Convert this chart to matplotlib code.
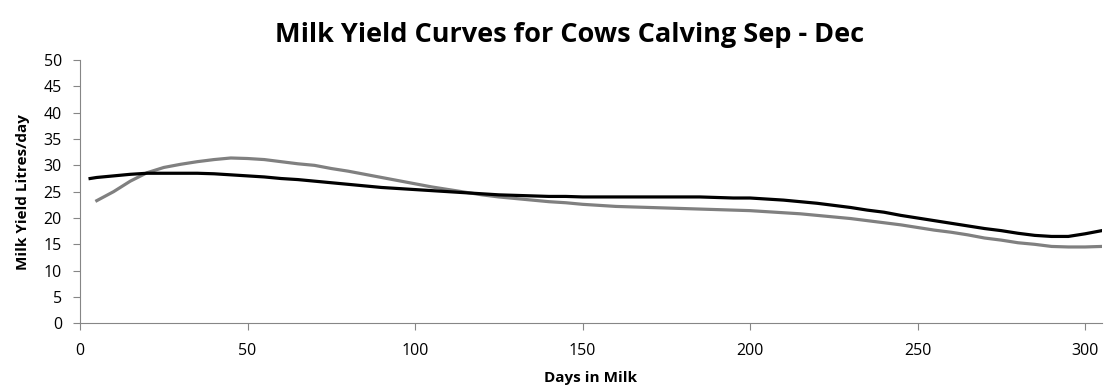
import matplotlib.pyplot as plt

# days in milk
days = [3, 5, 10, 15, 20, 25, 30, 35, 40, 45, 50, 55, 60, 65, 70, 75, 80, 85, 90, 95,
        100, 105, 110, 115, 120, 125, 130, 135, 140, 145, 150, 155, 160, 165, 170, 175,
        180, 185, 190, 195, 200, 205, 210, 215, 220, 225, 230, 235, 240, 245, 250, 255,
        260, 265, 270, 275, 280, 285, 290, 295, 300, 305]

# black curve
black = [27.5, 27.7, 28.0, 28.3, 28.5, 28.5, 28.5, 28.5, 28.4, 28.2, 28.0, 27.8, 27.5, 27.3, 27.0,
         26.7, 26.4, 26.1, 25.8, 25.6, 25.4, 25.2, 25.0, 24.8, 24.6, 24.4, 24.3, 24.2, 24.1, 24.1,
         24.0, 24.0, 24.0, 24.0, 24.0, 24.0, 24.0, 24.0, 23.9, 23.8, 23.8, 23.6, 23.4, 23.1, 22.8,
         22.4, 22.0, 21.5, 21.1, 20.5, 20.0, 19.5, 19.0, 18.5, 18.0, 17.6, 17.1, 16.7, 16.5, 16.5,
         17.0, 17.6]

# grey curve (starts at day 5)
grey = [None, 23.3, 25.0, 27.0, 28.6, 29.6, 30.2, 30.7, 31.1, 31.4, 31.3, 31.1, 30.7, 30.3, 30.0,
        29.4, 28.9, 28.3, 27.7, 27.1, 26.5, 25.9, 25.4, 24.9, 24.4, 24.0, 23.7, 23.4, 23.1, 22.9,
        22.6, 22.4, 22.2, 22.1, 22.0, 21.9, 21.8, 21.7, 21.6, 21.5, 21.4, 21.2, 21.0, 20.8, 20.5,
        20.2, 19.9, 19.5, 19.1, 18.7, 18.2, 17.7, 17.3, 16.8, 16.2, 15.8, 15.3, 15.0, 14.6, 14.5,
        14.5, 14.6]

fnt = 'Open Sans'

fig = plt.figure(figsize=(11.04, 3.9), dpi=100)
ax = fig.add_axes([0.0725, 0.171, 0.9255, 0.675])

gd = [d for d, v in zip(days, grey) if v is not None]
gv = [v for v in grey if v is not None]
ax.plot(gd, gv, color='#808080', lw=2.3)
ax.plot(days, black, color='black', lw=2.3)

ax.set_xlim(0, 305)
ax.set_ylim(0, 50)
ax.set_xticks(range(0, 301, 50))
ax.set_yticks(range(0, 51, 5))

for s in ['top', 'right']:
    ax.spines[s].set_visible(False)
for s in ['left', 'bottom']:
    ax.spines[s].set_color('#868686')
ax.tick_params(colors='#868686', labelcolor='black', direction='out', length=5,
               labelsize=11.5)
ax.tick_params(axis='x', pad=9)
ax.tick_params(axis='y', pad=8)
for lab in ax.get_xticklabels() + ax.get_yticklabels():
    lab.set_family(fnt)

fig.text(0.516, 0.91, 'Milk Yield Curves for Cows Calving Sep - Dec', ha='center', va='center',
         fontsize=19.5, fontweight='bold', family=fnt)
ax.set_xlabel('Days in Milk', fontsize=11, fontweight='bold', family=fnt, labelpad=9)
ax.set_ylabel('Milk Yield Litres/day', fontsize=11, fontweight='bold', family=fnt, labelpad=10)

fig.savefig('out.png', dpi=100)
